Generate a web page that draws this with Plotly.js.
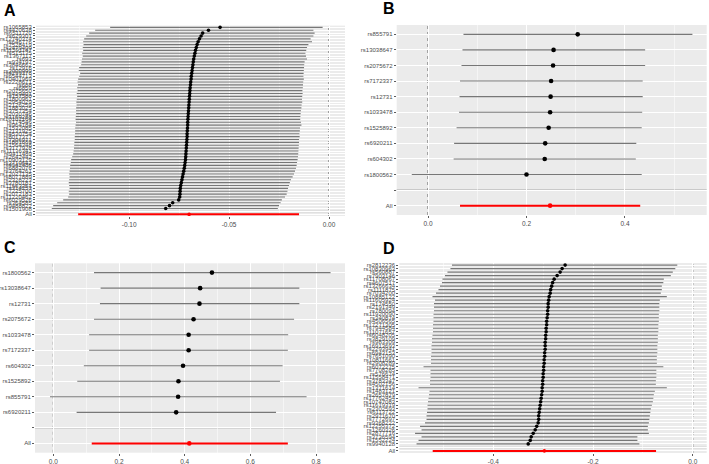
<!DOCTYPE html>
<html>
<head>
<meta charset="utf-8">
<script src="https://cdn.plot.ly/plotly-3.0.1.min.js"></script>
<style>html,body{margin:0;padding:0;background:#fff;}#chart{width:709px;height:464px;}</style>
</head>
<body>
<div id="chart"></div>
<script>
// ---------- Panel A (top to bottom) ----------
const snpA = ["rs1065853","rs4420638","rs6511720","rs629301","rs12740374","rs646776","rs7528419","rs2479409",
"rs11591147","rs515135","rs1367117","rs693","rs934197","rs3846662","rs12916","rs2000999",
"rs4299376","rs6544713","rs10401969","rs2228671","rs688","rs6859","rs2075650","rs439401",
"rs157580","rs1800961","rs2954029","rs2126259","rs1883025","rs3757354","rs2030746","rs1169288",
"rs10102164","rs174546","rs964184","rs1532085","rs2131925","rs4530754","rs8017377","rs7206971",
"rs1801689","rs1564348","rs3177928","rs11136341","rs9411489","rs2642442","rs10903129","rs2710642",
"rs4942486","rs6882076","rs3764261","rs12027135","rs8077889","rs2328223","rs3780181","rs11563251",
"rs314253","rs7225700","rs2072183","rs11220462","rs6029526","rs364585","rs9488822","rs1501908"];
const estA = [-0.0545,-0.0603,-0.0632,-0.0640,-0.0648,-0.0655,-0.0660,-0.0664,-0.0668,-0.0671,
-0.0674,-0.0677,-0.0679,-0.0681,-0.0683,-0.0685,-0.0687,-0.0689,-0.0690,-0.0692,
-0.0693,-0.0695,-0.0696,-0.0697,-0.0698,-0.0699,-0.0700,-0.0701,-0.0702,-0.0703,
-0.0704,-0.0705,-0.0706,-0.0707,-0.0707,-0.0708,-0.0709,-0.0710,-0.0710,-0.0711,
-0.0712,-0.0713,-0.0714,-0.0715,-0.0716,-0.0717,-0.0718,-0.0720,-0.0722,-0.0724,
-0.0727,-0.0730,-0.0733,-0.0736,-0.0739,-0.0742,-0.0744,-0.0745,-0.0746,-0.0747,
-0.0752,-0.0782,-0.0798,-0.0817];
const loA = [-0.1095,-0.1170,-0.1200,-0.1215,-0.1225,-0.1230,-0.1228,-0.1232,-0.1230,-0.1235,
-0.1232,-0.1236,-0.1238,-0.1240,-0.1250,-0.1252,-0.1245,-0.1250,-0.1255,-0.1258,
-0.1256,-0.1260,-0.1258,-0.1262,-0.1260,-0.1262,-0.1264,-0.1263,-0.1265,-0.1266,
-0.1265,-0.1267,-0.1268,-0.1266,-0.1268,-0.1270,-0.1270,-0.1271,-0.1272,-0.1272,
-0.1274,-0.1275,-0.1276,-0.1278,-0.1280,-0.1285,-0.1290,-0.1292,-0.1295,-0.1296,
-0.1298,-0.1300,-0.1298,-0.1300,-0.1302,-0.1300,-0.1298,-0.1302,-0.1300,-0.1305,
-0.1330,-0.1360,-0.1380,-0.1387];
const hiA = [-0.0032,-0.0078,-0.0072,-0.0078,-0.0092,-0.0085,-0.0103,-0.0110,-0.0114,-0.0118,
-0.0115,-0.0110,-0.0122,-0.0124,-0.0125,-0.0126,-0.0127,-0.0128,-0.0126,-0.0129,
-0.0130,-0.0131,-0.0133,-0.0132,-0.0134,-0.0135,-0.0134,-0.0137,-0.0138,-0.0140,
-0.0142,-0.0143,-0.0144,-0.0140,-0.0138,-0.0145,-0.0146,-0.0148,-0.0147,-0.0150,
-0.0150,-0.0151,-0.0152,-0.0153,-0.0154,-0.0155,-0.0157,-0.0160,-0.0162,-0.0165,
-0.0170,-0.0175,-0.0182,-0.0190,-0.0196,-0.0200,-0.0205,-0.0208,-0.0212,-0.0220,
-0.0236,-0.0242,-0.0250,-0.0256];
const allA = [-0.0700, -0.1255, -0.0150];
const ticksA = [-0.10, -0.05, 0.00];
const tickTextA = ["-0.10", "-0.05", "0.00"];
const minorA = [-0.125, -0.075, -0.025];

// ---------- Panel B ----------
const snpB = ["rs855791","rs13038647","rs2075672","rs7172337","rs12731","rs1033478","rs1525892","rs6920211","rs604302","rs1800562"];
const estB = [0.304,0.255,0.254,0.250,0.249,0.248,0.245,0.238,0.237,0.200];
const loB  = [0.072,0.070,0.068,0.065,0.064,0.063,0.058,0.053,0.052,-0.033];
const hiB  = [0.537,0.441,0.441,0.436,0.436,0.435,0.434,0.423,0.422,0.434];
const allB = [0.248, 0.065, 0.431];
const ticksB = [0.0, 0.2, 0.4];
const tickTextB = ["0.0", "0.2", "0.4"];
const minorB = [0.1, 0.3, 0.5];

// ---------- Panel C ----------
const snpC = ["rs1800562","rs13038647","rs12731","rs2075672","rs1033478","rs7172337","rs604302","rs1525892","rs855791","rs6920211"];
const estC = [0.483,0.447,0.445,0.427,0.412,0.412,0.395,0.381,0.380,0.374];
const loC  = [0.124,0.144,0.142,0.124,0.109,0.109,0.093,0.073,-0.010,0.071];
const hiC  = [0.844,0.749,0.749,0.733,0.715,0.714,0.698,0.690,0.771,0.678];
const allC = [0.414, 0.117, 0.714];
const ticksC = [0.0, 0.2, 0.4, 0.6, 0.8];
const tickTextC = ["0.0", "0.2", "0.4", "0.6", "0.8"];
const minorC = [0.1, 0.3, 0.5, 0.7];

// ---------- Panel D ----------
const snpD = ["rs2812236","rs10830963","rs560887","rs7903146","rs11708067","rs4607517","rs13266634","rs1111875",
"rs7034200","rs10885122","rs11605924","rs174550","rs2191349","rs780094","rs11920090","rs340874",
"rs4506565","rs17271305","rs7944584","rs11071657","rs6048205","rs3829109","rs983309","rs16913693",
"rs2293941","rs6943153","rs7651090","rs10811661","rs2908289","rs6072275","rs7708285","rs576674",
"rs11558471","rs3783347","rs4502156","rs1371614","rs1483121","rs2657879","rs17762454","rs10747083",
"rs11619319","rs2302593","rs6113722","rs2971670","rs7772697","rs9368222","rs12255372","rs1260326",
"rs2877716","rs3736594","rs1552224","rs9940128"];
const estD = [-0.256,-0.262,-0.266,-0.272,-0.278,-0.281,-0.283,-0.285,-0.286,-0.288,
-0.289,-0.290,-0.290,-0.291,-0.291,-0.292,-0.293,-0.293,-0.294,-0.294,
-0.295,-0.295,-0.296,-0.296,-0.296,-0.297,-0.297,-0.298,-0.298,-0.299,
-0.299,-0.300,-0.300,-0.301,-0.301,-0.302,-0.302,-0.303,-0.304,-0.305,
-0.306,-0.307,-0.308,-0.309,-0.309,-0.310,-0.313,-0.316,-0.320,-0.324,
-0.326,-0.330];
const loD = [-0.483,-0.486,-0.492,-0.497,-0.502,-0.503,-0.507,-0.510,-0.515,-0.522,
-0.517,-0.519,-0.519,-0.519,-0.520,-0.520,-0.520,-0.521,-0.521,-0.521,
-0.522,-0.523,-0.523,-0.524,-0.524,-0.524,-0.525,-0.525,-0.525,-0.540,
-0.526,-0.526,-0.526,-0.527,-0.527,-0.550,-0.528,-0.529,-0.530,-0.531,
-0.532,-0.532,-0.533,-0.534,-0.534,-0.537,-0.547,-0.544,-0.557,-0.544,
-0.550,-0.554];
const hiD = [-0.031,-0.035,-0.040,-0.044,-0.058,-0.059,-0.062,-0.062,-0.064,-0.052,
-0.066,-0.067,-0.067,-0.067,-0.068,-0.068,-0.068,-0.069,-0.069,-0.069,
-0.070,-0.070,-0.070,-0.071,-0.071,-0.071,-0.072,-0.072,-0.072,-0.059,
-0.073,-0.073,-0.073,-0.074,-0.074,-0.052,-0.076,-0.078,-0.079,-0.080,
-0.082,-0.084,-0.085,-0.086,-0.087,-0.088,-0.090,-0.090,-0.088,-0.111,
-0.111,-0.107];
const allD = [-0.2977, -0.5216, -0.0736];
const ticksD = [-0.4, -0.2, 0.0];
const tickTextD = ["-0.4", "-0.2", "0.0"];
const minorD = [-0.5, -0.3, -0.1];

// ---------- Build ----------
const FONT = "Liberation Sans, Arial, sans-serif";
const panels = [
  {names: snpA, est: estA, lo: loA, hi: hiA, all: allA, ticks: ticksA, tt: tickTextA, minor: minorA,
   xr: [-0.1466, 0.008], xd: [36/709, 345/709], yd: [1-216/464, 1-25.6/464], ms: 3.6, sfx: ""},
  {names: snpB, est: estB, lo: loB, hi: hiB, all: allB, ticks: ticksB, tt: tickTextB, minor: minorB,
   xr: [-0.0636, 0.566], xd: [396.7/709, 706.7/709], yd: [1-215/464, 1-25/464], ms: 4.6, sfx: "2"},
  {names: snpC, est: estC, lo: loC, hi: hiC, all: allC, ticks: ticksC, tt: tickTextC, minor: minorC,
   xr: [-0.0557, 0.888], xd: [35/709, 345/709], yd: [1-452.7/464, 1-263.3/464], ms: 4.6, sfx: "3"},
  {names: snpD, est: estD, lo: loD, hi: hiD, all: allD, ticks: ticksD, tt: tickTextD, minor: minorD,
   xr: [-0.5886, 0.028], xd: [399.3/709, 706.7/709], yd: [1-453/464, 1-263/464], ms: 3.6, sfx: "4"}
];

const traces = [];
const layout = {
  width: 709, height: 464,
  margin: {l: 0, r: 0, t: 0, b: 0},
  paper_bgcolor: "white",
  plot_bgcolor: "#ebebeb",
  showlegend: false,
  font: {family: FONT, size: 6, color: "#4d4d4d"},
  shapes: [],
  annotations: []
};

panels.forEach((p) => {
  const n = p.names.length;
  const pos = p.names.map((_, i) => n + 2 - i);
  const xa = "x" + p.sfx, ya = "y" + p.sfx;
  traces.push({
    type: "scatter", mode: "markers", x: p.est, y: pos, xaxis: xa, yaxis: ya,
    marker: {color: "black", size: p.ms},
    error_x: {type: "data", symmetric: false,
      array: p.hi.map((h, i) => h - p.est[i]),
      arrayminus: p.lo.map((l, i) => p.est[i] - l),
      width: 0, thickness: 1.1, color: "#777777"},
    hoverinfo: "skip", cliponaxis: false
  });
  traces.push({
    type: "scatter", mode: "markers", x: [p.all[0]], y: [1], xaxis: xa, yaxis: ya,
    marker: {color: "red", size: p.ms},
    error_x: {type: "data", symmetric: false, array: [p.all[2] - p.all[0]], arrayminus: [p.all[0] - p.all[1]],
      width: 0, thickness: 2, color: "red"},
    hoverinfo: "skip"
  });
  const tv = [1, 2].concat(pos.slice().reverse());
  const tt = ["All", ""].concat(p.names.slice().reverse());
  layout["xaxis" + p.sfx] = {
    domain: p.xd, range: p.xr, anchor: ya, tickvals: p.ticks, ticktext: p.tt,
    showgrid: true, gridcolor: "white", gridwidth: 1, zeroline: false, showline: false,
    ticks: "outside", ticklen: 2, tickwidth: 0.8, tickcolor: "#333333",
    tickfont: {family: FONT, size: 6.5, color: "#4d4d4d"},
    minor: {tickvals: p.minor, showgrid: true, gridcolor: "white", gridwidth: 0.5, ticks: ""},
    fixedrange: true
  };
  layout["yaxis" + p.sfx] = {
    domain: p.yd, range: [0.4, n + 2.6], anchor: xa, tickvals: tv, ticktext: tt,
    showgrid: true, gridcolor: "white", gridwidth: 1, zeroline: false, showline: false,
    ticks: "outside", ticklen: 2, tickwidth: 0.8, tickcolor: "#333333",
    tickfont: {family: FONT, size: 6, color: "#4d4d4d"},
    fixedrange: true
  };
  // separator at the blank level
  layout.shapes.push({type: "line", xref: xa + " domain", yref: ya, x0: 0, x1: 1, y0: 2, y1: 2,
    line: {color: "#bebebe", width: 1.5}, layer: "below"});
  // dotted zero line
  layout.shapes.push({type: "line", xref: xa, yref: ya + " domain", x0: 0, x1: 0, y0: 0, y1: 1,
    line: {color: "#555555", width: 1, dash: "dot"}, layer: "below"});
});

const letters = [["A", 2, 10], ["B", 381, 9], ["C", 1.5, 247.5], ["D", 381, 248.5]];
letters.forEach(([t, x, y]) => {
  layout.annotations.push({text: "<b>" + t + "</b>", xref: "paper", yref: "paper",
    x: x / 709, y: 1 - y / 464, xanchor: "left", yanchor: "middle", showarrow: false,
    font: {family: FONT, size: 16, color: "black"}});
});

Plotly.newPlot("chart", traces, layout, {staticPlot: true, displayModeBar: false});
</script>
</body>
</html>
